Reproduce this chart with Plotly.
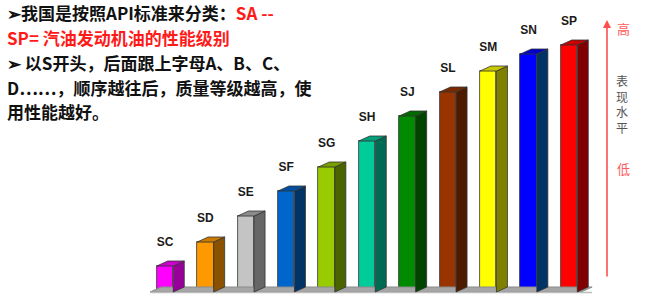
import plotly.graph_objects as go

grades = ["SC", "SD", "SE", "SF", "SG", "SH", "SJ", "SL", "SM", "SN", "SP"]
levels = [26, 50, 76, 101, 125, 151, 176, 200, 221, 238, 247]
front_colors = ["#ff00ff", "#ff9900", "#c4c4c4", "#0066cc", "#99cc00", "#00cc99",
                "#008a00", "#993300", "#ffff00", "#0000ff", "#ff0000"]
top_colors = ["#cc00cc", "#cc7a00", "#8c8c8c", "#0050a0", "#7a9f00", "#00a07a",
              "#006a00", "#7a2800", "#c8c800", "#0000c8", "#c80000"]
side_colors = ["#990099", "#8a5200", "#666666", "#003366", "#4a6400", "#006b52",
               "#004400", "#4d1a00", "#808000", "#003366", "#800000"]

W, H = 649, 303
x0_px, step_px = 165.0, 40.4
xr = [-x0_px / step_px, (W - x0_px) / step_px]
yr = [-11, 292]
bw = 16.5 / step_px
dx = 11.0 / step_px
dy = 5.0

fig = go.Figure()
xs = list(range(len(grades)))

# floor
fl, frt = -0.37, 10.3
fig.add_trace(go.Scatter(x=[fl, frt, frt + dx, fl + dx, fl], y=[0, 0, dy, dy, 0],
                         fill="toself", fillcolor="#a6a6a6", mode="lines",
                         line=dict(color="#8a8a8a", width=1), hoverinfo="skip", showlegend=False))
fig.add_trace(go.Scatter(x=[fl, frt + dx], y=[-0.5, -0.5], mode="lines",
                         line=dict(color="#bdbdbd", width=1.5), hoverinfo="skip", showlegend=False))

# front faces
fig.add_trace(go.Bar(x=xs, y=levels, width=bw, marker=dict(color=front_colors,
                     line=dict(color="#333333", width=0.8)), showlegend=False))

for i, h in enumerate(levels):
    l, r = i - bw / 2, i + bw / 2
    fig.add_trace(go.Scatter(x=[r, r + dx, r + dx, r, r], y=[0, dy, h + dy, h, 0],
                             fill="toself", fillcolor=side_colors[i], mode="lines",
                             line=dict(color="#333333", width=0.8), hoverinfo="skip", showlegend=False))
    fig.add_trace(go.Scatter(x=[l, l + dx, r + dx, r, l], y=[h, h + dy, h + dy, h, h],
                             fill="toself", fillcolor=top_colors[i], mode="lines",
                             line=dict(color="#333333", width=0.8), hoverinfo="skip", showlegend=False))

# labels
fig.add_trace(go.Scatter(x=xs, y=[h + 23 for h in levels], mode="text",
                         text=["<b>%s</b>" % g for g in grades],
                         textfont=dict(family="Liberation Sans, Arial", size=12, color="#1a1a1a"),
                         hoverinfo="skip", showlegend=False))

fig.update_layout(
    width=W, height=H, margin=dict(l=0, r=0, t=0, b=0),
    paper_bgcolor="white", plot_bgcolor="white",
    xaxis=dict(range=xr, visible=False, fixedrange=True),
    yaxis=dict(range=yr, visible=False, fixedrange=True),
    bargap=0,
)

cjk = "Noto Sans CJK SC"
lines = [
    ("<b>➢我国是按照API标准来分类：<span style='color:#ff1a1a'>SA --</span></b>", 13),
    ("<b><span style='color:#ff1a1a'>SP= 汽油发动机油的性能级别</span></b>", 38),
    ("<b>➢ 以S开头，后面跟上字母A、B、C、</b>", 62),
    ("<b>D……，顺序越往后，质量等级越高，使</b>", 87),
    ("<b>用性能越好。</b>", 111),
]
for txt, yp in lines:
    fig.add_annotation(x=5 / W, y=1 - yp / H, xref="paper", yref="paper", text=txt,
                       showarrow=False, xanchor="left", yanchor="middle",
                       font=dict(family=cjk, size=17, color="#111111"))

# arrow on the right
fig.add_annotation(x=607 / W, y=1 - 20 / H, ax=0, ay=258,
                   xref="paper", yref="paper",
                   text="", showarrow=True, arrowhead=2, arrowsize=1, arrowwidth=1.6,
                   arrowcolor="#ff4d4d")
fig.add_annotation(x=632 / W, y=1 - 28 / H, xref="paper", yref="paper", text="高",
                   showarrow=False, yanchor="middle",
                   font=dict(family=cjk, size=13, color="#ff5a5a"))
fig.add_annotation(x=630 / W, y=1 - 104 / H, xref="paper", yref="paper",
                   text="表<br>现<br>水<br>平", showarrow=False, yanchor="middle",
                   font=dict(family=cjk, size=12, color="#555555"))
fig.add_annotation(x=632 / W, y=1 - 168 / H, xref="paper", yref="paper", text="低",
                   showarrow=False, yanchor="middle",
                   font=dict(family=cjk, size=13, color="#ff5a5a"))

fig.write_html("out.html")
